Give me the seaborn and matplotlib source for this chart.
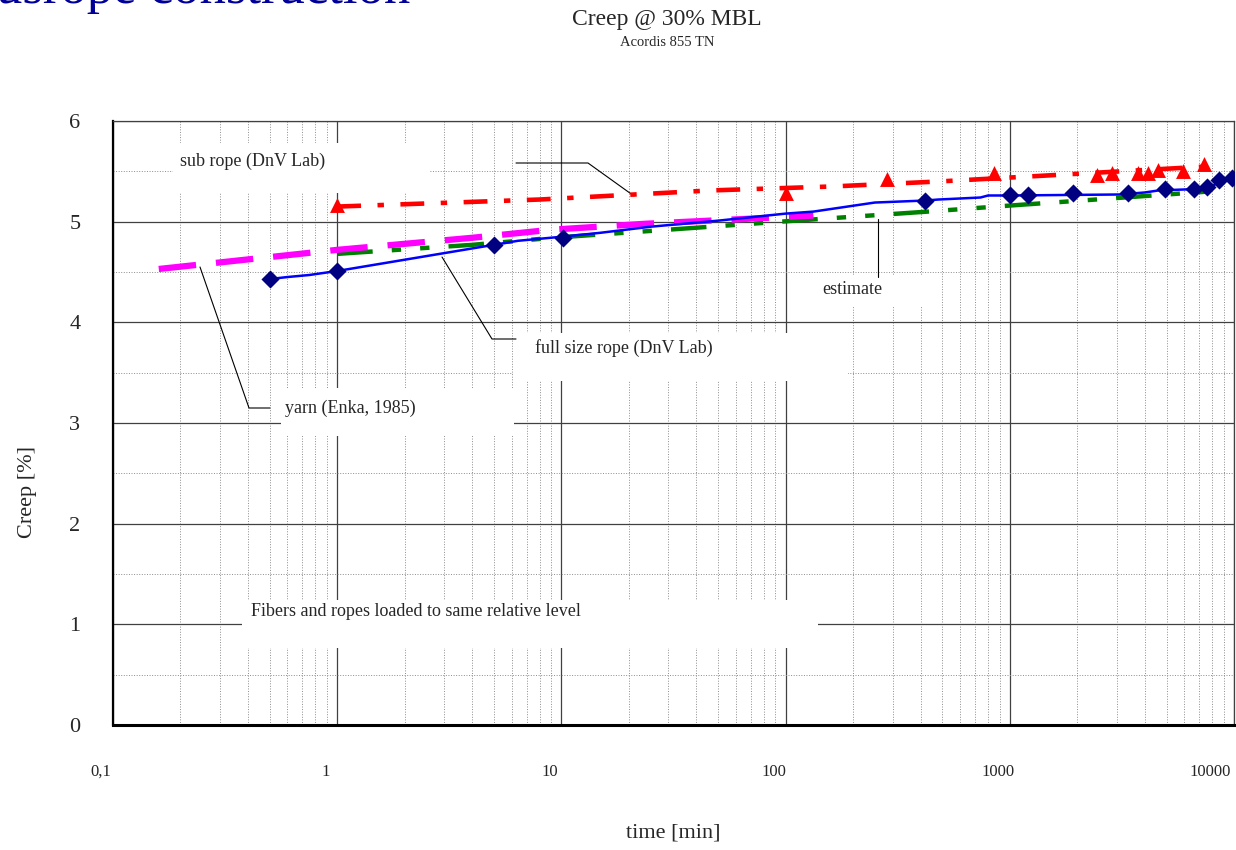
import pandas as pd
import seaborn as sns
import matplotlib.pyplot as plt
from matplotlib.patches import Rectangle
from matplotlib.ticker import FixedLocator, MultipleLocator, LogLocator, NullFormatter
from matplotlib.transforms import ScaledTranslation

# --- data (time in min, creep in %) ---
full_line_t = [0.5, 0.6, 0.75, 1, 5, 6.4, 10, 15, 25, 50, 100, 133, 250, 420, 480,
               740, 800, 1000, 3100, 4000, 4600, 6050, 7750, 8600, 9800]
full_line_c = [4.43, 4.45, 4.47, 4.51, 4.77, 4.81, 4.85, 4.89, 4.95, 5.01, 5.08, 5.10, 5.19, 5.21, 5.22,
               5.24, 5.26, 5.26, 5.27, 5.29, 5.31, 5.32, 5.33, 5.40, 5.42]
full_pts_t = [0.5, 1, 5, 10.2, 420, 1000, 1200, 1920, 3350, 4930, 6600, 7600, 8600, 9800]
full_pts_c = [4.43, 4.51, 4.77, 4.84, 5.21, 5.26, 5.26, 5.28, 5.28, 5.32, 5.32, 5.34, 5.41, 5.43]

sub_line_t = [1, 8, 46, 163, 490, 1500, 7800]
sub_line_c = [5.15, 5.22, 5.31, 5.35, 5.40, 5.46, 5.55]
sub_pts_t = [1, 100, 284, 852, 2455, 2865, 3736, 4140, 4590, 5930, 7365]
sub_pts_c = [5.17, 5.28, 5.42, 5.48, 5.46, 5.48, 5.48, 5.48, 5.51, 5.50, 5.57]

yarn_t = [0.16, 1, 4, 9, 24, 133]
yarn_c = [4.53, 4.72, 4.84, 4.92, 4.98, 5.06]

est_t = [1, 4, 9.2, 40, 95, 430, 1000, 2800, 9000]
est_c = [4.68, 4.77, 4.84, 4.94, 5.00, 5.10, 5.16, 5.23, 5.31]

xticks = [0.1, 1, 10, 100, 1000, 10000]
xtick_labels = ['0,1', '1', '10', '100', '1000', '10000']
yticks = [0, 1, 2, 3, 4, 5, 6]

sns.set_style('white')
plt.rcParams['font.family'] = ['Liberation Serif', 'DejaVu Serif']

W, H = 1236, 850
fig = plt.figure(figsize=(W / 100, H / 100), dpi=100)
ax = fig.add_axes([113 / W, 125 / H, 1121 / W, 604 / H])
ax.set_xscale('log')

# series
sns.lineplot(x=est_t, y=est_c, ax=ax, color='#008000', lw=3.2,
             linestyle=(0, (8, 4.3, 2.1, 4.3, 2.1, 4.3)), zorder=4)
sns.lineplot(x=yarn_t, y=yarn_c, ax=ax, color='#FF00FF', lw=4.5,
             linestyle=(0, (6, 3.2)), zorder=5)
sns.lineplot(x=sub_line_t, y=sub_line_c, ax=ax, color='#FF0000', lw=3.3,
             linestyle=(0, (5.2, 3.6, 1.4, 3.6)), zorder=6)
sns.scatterplot(x=sub_pts_t, y=sub_pts_c, ax=ax, color='#FF0000', marker='^',
                s=115, linewidth=0, zorder=7)
sns.lineplot(x=full_line_t, y=full_line_c, ax=ax, color='#0000FF', lw=1.8, zorder=8)
sns.scatterplot(x=full_pts_t, y=full_pts_c, ax=ax, color='#000080', marker='D',
                s=85, linewidth=0, zorder=9)

ax.set_xlim(0.1, 10000)
ax.set_ylim(0, 6)
ax.xaxis.set_major_locator(FixedLocator(xticks))
ax.set_xticklabels(xtick_labels)
ax.xaxis.set_minor_locator(LogLocator(base=10, subs=range(2, 10)))
ax.xaxis.set_minor_formatter(NullFormatter())
ax.set_yticks(yticks)
ax.yaxis.set_minor_locator(MultipleLocator(0.5))

ax.set_axisbelow(True)
ax.grid(which='major', color='#404040', lw=0.9, ls='-')
ax.grid(which='minor', color='#8c8c8c', lw=0.7, ls=':')
ax.tick_params(axis='x', which='major', direction='out', length=9, width=0.9,
               pad=19, labelsize=12, color='#404040')
ax.tick_params(axis='y', which='major', direction='out', length=9.5, width=0.9,
               pad=14, labelsize=16, color='#404040')
ax.tick_params(which='minor', length=0)

# tick labels sit a little left of their ticks in the original
for lab in ax.get_xticklabels():
    dx = -0.24 if lab.get_text() == '10000' else -0.12
    lab.set_transform(lab.get_transform() + ScaledTranslation(dx, 0, fig.dpi_scale_trans))

for side in ['top', 'right']:
    ax.spines[side].set_color('#404040')
    ax.spines[side].set_linewidth(0.9)
ax.spines['left'].set_color('black')
ax.spines['left'].set_linewidth(1.6)
ax.spines['bottom'].set_color('black')
ax.spines['bottom'].set_linewidth(2.2)

ax.set_xlabel('time [min]', fontsize=16)
ax.set_ylabel('Creep [%]', fontsize=16)
ax.xaxis.set_label_coords(0.5, -0.163)
ax.yaxis.set_label_coords(-0.068, 0.385)


def af(px, py):
    # reference pixel -> axes fraction
    return (px - 113) / 1121, (725 - py) / 604


def label_box(x0, y0, x1, y1, tx, ty, text):
    bx, by = af(x0, y1)
    ax.add_patch(Rectangle((bx, by), (x1 - x0) / 1121, (y1 - y0) / 604,
                           transform=ax.transAxes, fc='white', ec='none', zorder=1))
    ax.text(*af(tx, ty), text, transform=ax.transAxes, ha='left', va='center',
            fontsize=13, zorder=2)


def leader(points):
    xs, ys = zip(*[af(px, py) for px, py in points])
    ax.plot(xs, ys, transform=ax.transAxes, color='black', lw=0.8, zorder=3)


label_box(173, 143, 430, 193, 180, 161, 'sub rope (DnV Lab)')
label_box(795, 275, 925, 306, 822, 289, 'estimate')
label_box(513, 333, 848, 381, 535, 348, 'full size rope (DnV Lab)')
label_box(281, 388, 514, 436, 285, 408, 'yarn (Enka, 1985)')
label_box(242, 600, 818, 648, 251, 612, 'Fibers and ropes loaded to same relative level')

leader([(516, 163), (588, 163), (634, 196)])
leader([(442, 257), (492, 339), (516, 339)])
leader([(200, 267), (249, 408), (270, 408)])
leader([(878, 219), (878, 277)])

fig.text(667 / W, 1 - 20 / H, 'Creep @ 30% MBL', ha='center', va='center', fontsize=17)
fig.text(667 / W, 1 - 42 / H, 'Acordis 855 TN', ha='center', va='center', fontsize=10.5)
# slide heading, cut off at the top-left corner as in the original
fig.text(-4 / W, 1 - 3 / H, 'usrope construction', ha='left', va='baseline',
         fontsize=38, color='#000099')

fig.savefig('out.png', dpi=100)
